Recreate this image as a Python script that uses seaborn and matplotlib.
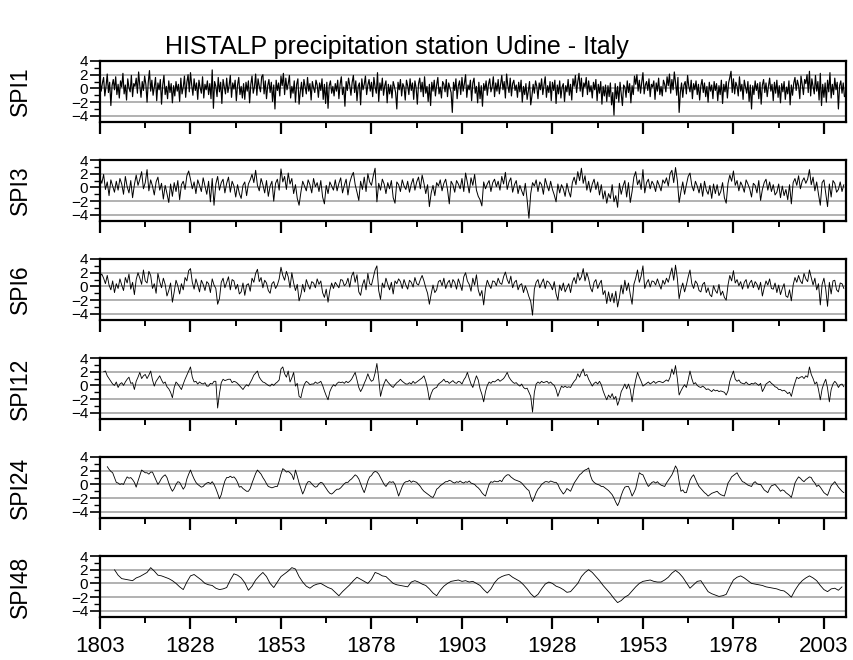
import numpy as np
import pandas as pd
import matplotlib
matplotlib.use("Agg")
import matplotlib.pyplot as plt
import seaborn as sns
from matplotlib.ticker import FixedLocator

# ---------------- data ----------------
title = "HISTALP precipitation station Udine - Italy"
names = ["SPI1", "SPI3", "SPI6", "SPI12", "SPI24", "SPI48"]
year_ticks = [1803, 1828, 1853, 1878, 1903, 1928, 1953, 1978, 2003]

# SPI1: 3 values per year, 1803 ... 2008
spi1 = [
    1.2, -0.4, 0.8, 1.6, -1.1, 0.3, 2.1, -0.6, 0.9, -2.5, 0.4, 1.3, -0.2, 1.7, -0.9,
    0.6, -1.4, 1.1, 0.2, 2.2, -0.8, 0.5, -1.7, 1.4, 0.1, -0.5, 1.9, -1.2, 0.7, 0.3,
    1.5, -0.7, 2.4, 0.4, -1.3, 1.0, -0.3, 1.8, 0.6, -2.0, 0.9, 2.6, -0.4, 1.2, -1.0,
    0.2, 1.6, -1.8, 0.8, -0.2, 1.3, -2.3, 0.5, 1.9, -0.9, 0.3, -1.5, 1.1, -0.6, 0.7,
    -2.1, 0.4, -1.1, 1.0, -0.4, 0.6, -1.9, 1.5, -0.8, 0.2, 1.8, -1.3, 0.9, 2.0, -0.5,
    2.3, 0.5, -1.0, 1.4, -0.3, 0.8, -1.6, 1.2, 0.1, -0.7, 1.7, -1.4, 0.6, -0.2, 1.1,
    -0.9, 0.7, -1.5, 2.7, -2.9, 1.0, 0.3, -1.2, 1.6, -0.5, 0.9, -2.2, 1.3, 0.2, -0.8,
    1.5, -0.6, 0.4, 1.9, -1.3, 0.8, -0.1, 1.2, -1.8, 0.5, 1.6, -0.9, 0.3, -1.4, 0.7,
    -1.6, 0.9, -0.4, 1.1, -2.1, 0.6, 1.8, -0.7, 0.2, 2.1, -1.0, 1.4, 0.3, -0.5, 1.7,
    2.0, -0.8, 1.1, -1.5, 0.4, 1.3, -0.6, 0.9, -1.9, 0.5, -3.0, 1.2, -0.3, 0.8, -1.1,
    1.8, 0.4, 2.2, -0.9, 1.5, -0.2, 0.7, 1.9, -1.4, 0.3, -0.7, 1.1, -2.0, 0.6, 1.4,
    -2.3, -0.5, 0.9, -1.2, 1.3, 0.2, -0.8, 1.6, -0.4, 0.7, -1.7, 1.0, 0.1, -0.6, 1.2,
    0.5, -1.3, 0.8, -0.3, 1.4, -1.6, 0.6, -2.2, 0.9, -2.9, 0.4, 1.1, -0.7, 0.3, -1.1,
    0.7, -0.4, 1.2, -1.5, 0.6, 1.7, -0.9, 0.2, -2.6, 1.0, -0.3, 1.5, 0.4, -1.0, 0.9,
    1.9, -0.6, 1.1, -1.8, 0.3, 0.8, -2.4, 1.4, -0.2, 0.6, 1.8, -0.9, 0.5, 1.3, -0.4,
    0.9, -1.2, 1.6, 0.2, -0.7, 2.3, -1.9, 0.8, -0.3, 1.5, -1.0, 0.4, 1.1, -2.1, 0.6,
    -0.8, 0.5, -1.4, 1.0, 0.3, -0.6, -3.0, 0.9, -0.2, 1.3, -1.1, 0.7, 0.2, -1.7, 1.2,
    0.4, -0.9, 1.4, -0.3, 0.8, -1.6, 1.1, 0.1, -2.3, 0.7, 1.5, -0.5, 0.9, -1.2, 1.7,
    -0.7, 0.3, -1.9, 0.6, -2.5, 0.9, -0.4, 1.2, -1.1, 0.5, 1.6, -0.8, 0.2, -1.4, 1.0,
    0.6, -0.5, 1.3, -1.2, 0.8, 0.1, -0.6, -3.5, 0.9, -0.3, 1.4, -1.5, 0.4, 1.1, -0.9,
    1.6, -0.4, 0.7, 2.0, -1.3, 0.5, -0.2, 1.2, -1.8, 0.8, 1.5, -0.7, 0.3, -2.1, 0.9,
    -1.5, 0.4, -2.6, 0.7, -0.3, 1.1, -1.0, 0.6, 1.4, -0.5, 0.2, 1.7, -1.2, 0.8, -0.4,
    1.3, -0.8, 0.5, 1.9, -0.2, 1.0, -1.4, 2.1, 0.4, -0.6, 1.5, -1.1, 0.7, 1.2, -0.3,
    0.5, -1.3, 0.9, -0.5, 1.2, -2.0, 0.3, -0.9, 0.7, -1.6, -0.4, 1.0, -2.4, -1.1, 0.6,
    -0.7, 1.1, 0.3, -1.5, 0.8, -0.2, 1.4, -0.9, 0.5, 1.7, -1.3, 0.4, -0.6, 1.0, -1.8,
    0.9, -0.3, 1.2, -2.2, 0.5, -0.8, 1.1, -1.4, 0.2, 0.7, -1.9, 0.4, -0.5, 1.3, -1.0,
    0.6, -1.7, 1.4, 0.3, 1.9, -0.6, 1.0, 2.2, -0.4, 1.5, -1.2, 0.8, 0.2, 1.6, -0.9,
    1.1, -0.5, 0.4, -1.4, 0.9, -0.2, 1.3, -1.8, 0.6, -0.7, 1.0, -2.3, 0.3, -1.1, 0.5,
    -1.9, 0.4, -1.2, 0.8, -2.4, -0.6, -3.9, 0.7, -1.5, 0.3, -2.0, 0.9, -0.8, -2.5, 0.5,
    0.2, -1.3, 1.1, -0.6, 0.7, -2.1, 0.4, -0.9, 1.8, 0.6, 2.0, -0.4, 1.2, -0.7, 0.9,
    2.3, -0.8, 0.5, 1.0, -0.3, 1.4, -1.2, 0.6, 0.2, 1.1, -1.6, 0.8, -0.4, 1.5, -0.9,
    0.3, -1.1, 1.2, 0.6, -0.5, 1.7, 0.4, 2.1, -0.7, 1.3, -0.2, 2.4, 0.9, -1.0, 1.6,
    -3.5, -0.6, 0.8, -1.3, 0.5, 1.0, -0.8, 1.9, 0.3, -0.5, 1.2, -1.5, 0.7, -0.2, 1.1,
    -0.9, 0.6, -1.7, 0.4, 1.3, -0.6, 0.8, -1.2, 0.3, -2.0, 0.9, -0.4, 0.5, -1.5, 1.0,
    -0.3, 0.7, -1.8, 0.4, -0.9, 1.2, -2.2, 0.6, -0.5, 1.0, -1.4, 0.8, 1.6, 2.5, -0.6,
    1.4, -0.8, 0.9, 0.3, -1.1, 1.7, -0.4, 0.6, -1.6, 1.2, 0.2, -0.7, 1.0, -1.9, 0.5,
    -3.0, 0.4, -0.9, 1.1, -0.3, 0.7, -1.5, 0.9, -2.3, 0.5, 1.3, -0.6, 0.8, -1.2, 0.3,
    1.5, -0.4, 0.6, -1.8, 0.9, -0.7, 1.2, -1.3, 0.4, -2.1, 0.7, -0.5, 1.0, -1.6, 0.2,
    -0.8, 1.1, -2.4, 0.5, -1.0, 0.8, 1.6, -0.3, 1.2, 0.4, -1.5, 1.8, 0.6, -0.9, 1.3,
    0.7, 2.0, -0.6, 2.5, -1.1, 1.4, 0.3, -0.8, 1.9, -0.4, 1.0, -1.7, 2.2, -2.5, 0.6,
    -1.3, 0.8, -2.0, 1.2, -0.5, 2.3, -1.4, 0.6, -0.9, 1.5, -0.2, 0.9, -3.0, 0.4, 1.1,
    -0.7, 0.8, -1.2,
]

# SPI3: 2 values per year, 1803 ... 2008
spi3 = [
    1.4, 0.6, 1.9, -0.3, 0.8, -1.2, 1.1, 0.2, -0.7, 0.9,
    -0.4, 1.3, 0.5, -1.0, 1.6, 0.1, -0.8, 1.0, -1.5, 0.4,
    1.8, 0.3, 1.2, 2.3, -0.2, 0.7, 2.6, -0.5, 1.1, 0.2,
    -1.1, 0.8, 1.5, -0.4, 0.6, -1.7, 0.3, -0.9, -2.2, 0.5,
    -1.3, 0.7, -0.6, 1.0, -1.8, 0.4, 0.9, -0.3, 1.7, 2.4,
    1.2, -0.2, 0.8, -0.9, 1.1, 0.3, -0.6, 1.4, 0.2, -1.0,
    0.9, -2.1, 1.3, -2.6, 0.5, 1.6, -0.4, 0.7, 1.2, -0.8,
    0.6, 1.5, -0.7, 0.9, 0.2, -1.4, 0.4, -0.9, -1.6, 0.3,
    0.8, -1.2, 0.5, 1.1, 1.9, 0.7, 2.5, 0.3, -0.5, 1.3,
    0.4, -0.8, 1.0, -1.3, 0.2, 0.9, -2.0, 0.6, 1.2, -0.4,
    2.7, 0.8, 1.6, -0.3, 2.1, 0.5, 1.3, -0.9, 0.4, -1.6,
    -2.6, -0.7, 0.9, 0.2, -0.5, 1.1, 0.4, -0.8, 1.3, 0.1,
    0.7, -0.6, 1.0, -1.4, -2.4, 0.3, -0.9, 0.8, 0.2, -0.4,
    1.1, -0.5, 0.6, 1.4, -0.8, 0.3, 1.2, -1.1, 0.7, 1.6,
    2.2, 0.4, -0.7, -1.9, 0.9, -0.3, 1.5, -0.6, 2.0, 0.8,
    0.3, 1.7, 2.8, -2.1, 0.6, -0.4, 1.2, 0.5, -0.9, 0.7,
    -0.2, 1.0, -1.5, -2.3, 0.8, 0.4, -0.6, 1.1, 0.2, -0.3,
    0.9, -0.7, 0.5, 1.3, -0.4, 0.8, 1.5, -0.2, 1.8, 0.6,
    -0.9, 0.4, -2.8, -0.8, 0.3, -1.2, 0.7, 0.2, 1.1, -0.5,
    0.6, 1.2, -0.3, -2.4, 0.9, 0.4, -0.7, 1.0, 0.5, -0.2,
    1.3, -0.6, 2.1, 0.7, -0.8, 1.4, 0.3, 1.9, -0.4, -1.3,
    -1.8, -2.7, 0.8, -0.2, 0.5, 1.0, -0.6, 0.7, 1.2, 0.1,
    0.9, -0.4, 1.6, 0.5, 2.2, -0.3, 0.8, 1.4, -0.7, 0.4,
    1.0, -0.9, 0.3, -0.5, -1.2, 0.6, -1.8, -4.5, -0.9, 0.7,
    0.2, 1.1, -0.6, 0.8, 0.4, -1.0, 1.3, 0.3, -0.5, 0.9,
    -0.3, -1.1, -2.1, 0.5, -0.8, 0.4, -0.2, -1.3, 0.6, -0.6,
    -1.4, 0.7, 1.5, 0.4, 2.3, 1.0, 2.8, 0.6, 1.7, -0.4,
    0.9, -0.7, 0.5, 1.2, -0.3, 0.8, -1.1, 0.4, -1.7, -0.5,
    -2.3, -0.9, -1.6, 0.4, -2.1, -1.2, -2.9, 0.6, -1.0, 0.2,
    1.0, -1.4, 0.7, -2.2, -0.6, 1.5, 2.3, 0.4, 1.1, -0.3,
    2.6, -0.8, 0.7, 1.2, -0.2, 0.9, 0.4, -0.6, 1.0, 0.3,
    -0.5, 1.1, 0.6, 1.4, 0.2, 2.0, 2.5, 0.7, 2.9, 1.0,
    -2.2, -0.6, 0.8, -1.0, 0.4, 1.6, 2.1, 0.3, -0.5, 0.9,
    0.2, -0.8, 0.6, -1.3, 0.9, -0.4, -1.0, 0.3, -1.6, 0.5,
    -0.9, 0.4, -1.2, -0.6, 0.7, -1.5, -2.3, 0.6, 1.8, 0.9,
    2.4, 0.3, 1.0, -0.5, 0.8, 0.2, -0.7, 1.1, 0.5, -0.2,
    -1.4, 0.6, 0.3, -0.8, 1.0, -1.9, -0.3, 0.7, 1.2, -0.4,
    0.8, -0.6, 0.4, -1.1, -0.7, 0.5, -1.5, 0.2, -1.2, -0.3,
    -1.8, 0.4, -2.4, 0.7, 1.3, 0.3, 1.7, -0.2, 0.9, 1.4,
    0.6, 1.2, 2.6, 0.4, 1.5, -0.5, 0.8, -1.0, -2.6, 0.7,
    1.1, -0.9, -2.8, 0.5, -1.4, 1.0, 0.6, -0.7, -0.3, 0.8,
    -0.6, 0.4,
]

# SPI6: 2 values per year, 1803 ... 2008
spi6 = [
    1.5, 1.8, 1.2, 0.4, 1.6, 0.2, -0.5, 0.8, -0.9, 0.4,
    -0.3, 1.1, 0.2, -0.6, 1.3, 0.5, 1.8, -0.4, 0.6, -1.2,
    1.0, 2.0, 1.2, 0.3, 2.4, 0.8, 0.5, 2.2, 1.6, -0.3,
    0.4, -1.0, 1.9, 0.7, -0.2, 1.2, 0.3, -1.4, -0.6, 0.5,
    -2.3, -0.8, 0.9, 0.1, -1.1, 0.4, -0.5, 1.3, 0.8, 2.3,
    2.6, 0.6, -0.4, 1.1, 0.2, -0.8, 0.9, 0.3, -0.6, 0.7,
    0.4, -0.9, 1.1, 0.2, -0.3, -2.6, -1.8, 0.6, 1.2, -0.2,
    0.6, 1.4, -0.5, 1.0, 0.8, -0.4, 0.3, -1.1, -0.8, 0.5,
    -1.3, 0.2, 0.4, -0.7, 1.2, 0.6, 1.9, 2.5, 0.7, 1.3,
    -0.2, 0.9, 0.5, -0.6, -1.0, 0.4, 0.7, -0.3, 0.2, 1.1,
    2.8, 1.6, 0.9, 2.2, 1.4, -0.2, 2.0, 0.5, -0.6, 0.3,
    -2.1, -1.2, 0.3, -0.8, 1.0, 0.2, -0.4, 0.7, 0.5, -0.2,
    1.1, 0.3, 0.8, -0.9, -1.6, -0.4, -2.3, -0.6, 0.5, -0.3,
    0.6, 0.2, -0.2, 1.0, 0.9, 0.1, 0.4, 1.2, -0.1, 1.5,
    2.1, 0.6, 1.7, -0.8, -1.3, 0.2, 1.0, -0.5, 1.9, 0.4,
    0.2, 1.3, 2.4, 3.0, -0.6, -1.9, 0.5, -0.2, 1.2, 0.3,
    -0.5, 0.6, -1.1, 0.8, 0.4, 1.1, 0.7, -0.3, 1.0, 0.2,
    -0.4, 0.9, 0.6, -0.1, 1.3, 0.4, 0.2, 1.0, 1.6, 0.8,
    -0.2, -1.0, -2.6, -1.1, 0.2, -0.9, -0.5, 0.7, 0.9, 0.1,
    1.2, -0.3, 0.5, 0.9, -0.2, 1.0, 0.6, -0.4, 1.1, 0.3,
    -0.6, 1.4, 2.0, 0.8, 0.3, -0.7, 1.2, 0.2, 1.7, -0.5,
    -1.4, -0.6, -2.7, -0.3, 0.9, 0.2, -0.3, 0.8, 0.7, 0.1,
    1.2, 0.5, 0.3, 1.4, 2.1, 1.0, 0.4, 1.5, -0.2, 0.6,
    0.9, -0.5, 0.2, 0.4, -0.9, 0.1, -0.6, -1.5, -2.2, -4.2,
    -0.4, 0.6, 1.0, -0.2, 0.5, 1.1, -0.3, 0.8, 0.6, 0.2,
    -0.5, 0.7, -1.1, -2.0, 0.2, -0.6, 0.5, -0.8, -0.2, 0.4,
    -0.9, 0.6, 1.3, 0.4, 2.0, 0.9, 1.4, 2.6, 0.8, 2.0,
    1.1, -0.2, -0.8, 0.6, 1.0, -0.3, 0.4, 0.9, -1.2, -0.6,
    -2.5, -0.8, -2.2, -1.0, -2.4, -0.7, -3.0, -1.6, 0.2, -1.1,
    0.9, -0.6, 0.5, -1.2, -2.6, 0.3, 1.2, 2.4, 0.6, 1.5,
    3.0, -0.3, 0.5, 1.0, -0.1, 0.8, 0.7, 0.2, 1.1, 0.3,
    -0.4, 0.9, 0.3, 1.2, 0.6, 1.7, 2.7, 0.9, 3.1, 1.2,
    -1.8, -0.4, 0.5, -0.8, 0.2, 1.4, 2.4, 0.4, -0.3, 0.8,
    0.4, -0.6, -0.8, 0.3, 0.6, -0.9, -0.2, -1.2, -1.5, 0.1,
    -0.6, -1.0, 0.3, -1.3, -0.7, -1.6, -2.0, 0.2, 1.6, 0.8,
    2.3, 0.5, 1.0, 0.1, 0.7, -0.4, 0.6, 1.0, -0.3, 0.5,
    0.9, -0.2, 0.7, 0.3, -0.5, 0.6, -1.4, -0.2, 0.8, 0.2,
    1.1, -0.3, -0.4, 0.5, -0.9, 0.2, -1.2, -0.3, 0.4, -1.4,
    -1.6, -0.5, -2.1, 0.2, 1.3, 0.6, 1.6, 0.8, 0.4, 1.9,
    1.1, 0.7, 2.4, 1.3, 0.2, 1.2, -0.5, 0.4, -2.7, 0.3,
    1.2, -0.4, -2.9, 0.6, -1.1, 0.8, 0.9, -0.5, -0.8, 0.5,
    0.4, -0.3,
]

# SPI12: 2 values per year, 1804 ... 2008
spi12 = [
    2.0, 2.1, 1.4, 1.0, 0.6, 0.2, 0.0, 0.5, -0.3, 0.2,
    0.4, 0.0, 0.5, 0.9, 1.2, 0.3, 0.4, -0.6, 0.6, 1.2,
    1.9, 1.0, 1.4, 1.6, 1.0, 1.5, 2.1, 0.8, -0.1, 0.6,
    1.0, 1.4, 0.8, 0.3, 0.5, -0.2, -0.5, -1.0, -1.8, -0.3,
    0.5, 0.2, -0.2, -0.6, 0.2, 0.9, 1.5, 2.1, 2.7, 1.2,
    0.5, 0.6, 0.2, 0.5, 0.3, 0.2, 0.4, -0.1, -0.1, 0.3,
    0.2, 0.6, 0.6, -3.3, -1.2, 0.4, 0.9, 0.7, 0.8, 0.9,
    0.9, 0.4, 0.6, 0.5, 0.3, 0.0, -0.3, -0.6, -0.2, 0.1,
    -0.1, 0.4, 0.9, 1.5, 1.8, 2.1, 1.2, 0.8, 0.5, 0.4,
    0.2, 0.0, -0.1, 0.2, 0.0, 0.3, 0.5, 0.8, 2.4, 2.7,
    1.7, 1.2, 2.1, 0.5, 1.1, 1.9, -0.1, 0.3, -1.6, -1.8,
    -0.6, 0.2, 0.6, 0.4, 0.1, 0.2, 0.2, 0.5, 0.3, 0.4,
    0.6, 0.0, -0.8, -1.5, -2.1, -0.9, -0.3, 0.1, -0.1, 0.3,
    0.5, 0.4, 0.5, 0.3, 0.6, 0.4, 0.6, 0.9, 1.4, 1.9,
    0.8, -0.3, -0.9, -0.4, 0.3, 0.9, 1.7, 1.0, 0.6, 0.8,
    1.8, 3.2, 1.0, -1.6, -0.5, 0.3, 0.9, 0.5, 0.2, -0.1,
    -0.3, 0.1, 0.4, 0.6, 0.9, 0.6, 0.4, 0.2, 0.2, 0.4,
    0.2, 0.6, 0.3, 0.5, 0.7, 0.9, 1.1, 1.4, 0.6, -0.5,
    -2.1, -1.2, -0.6, -0.4, -0.3, 0.2, 0.4, 0.6, 0.9, 0.5,
    0.6, 0.3, 0.5, 0.7, 0.4, 0.3, 0.6, 0.5, 0.2, 0.8,
    1.2, 1.9, 1.0, 0.2, -0.3, 0.6, 1.4, 0.8, -0.5, -1.3,
    -2.4, -0.9, 0.0, 0.5, 0.3, 0.6, 0.5, 0.7, 0.9, 0.6,
    0.8, 1.0, 1.4, 1.9, 1.2, 0.8, 0.5, 0.3, 0.4, 0.1,
    -0.1, 0.2, -0.3, -0.5, -0.4, -1.0, -1.6, -3.9, -1.0, 0.2,
    0.5, 0.3, 0.6, 0.4, 0.5, 0.6, 0.3, 0.5, 0.2, 0.0,
    -0.6, -1.6, -0.8, -0.1, -0.3, -0.1, -0.3, -0.2, -0.3, 0.2,
    0.6, 0.9, 1.7, 1.2, 1.9, 2.4, 1.4, 1.6, 0.9, 0.4,
    -0.1, 0.3, 0.5, 0.2, 0.6, 0.1, -0.8, -1.5, -2.1, -1.4,
    -1.8, -1.2, -2.0, -1.6, -2.9, -2.1, -0.9, -0.4, 0.2, -0.5,
    0.2, -0.6, -2.4, -0.5, 0.8, 1.9, 1.2, 0.6, -0.1, 0.1,
    0.3, 0.5, 0.2, 0.4, 0.6, 0.3, 0.5, 0.6, 0.5, 0.4,
    0.6, 0.8, 0.6, 1.2, 2.4, 1.6, 2.9, 1.0, -1.4, -0.8,
    -0.3, 0.1, -0.3, 0.8, 2.1, 1.0, 0.2, 0.4, 0.0, -0.2,
    -0.3, -0.1, -0.3, -0.6, -0.5, -0.7, -0.9, -0.6, -0.8, -0.7,
    -0.9, -0.8, -0.9, -1.0, -1.4, -0.8, 0.6, 1.4, 2.1, 0.9,
    0.6, 0.8, 0.4, 0.3, 0.2, 0.5, 0.2, 0.1, 0.3, 0.2,
    0.4, 0.2, 0.0, 0.3, -0.9, -0.4, 0.2, 0.4, 0.6, 0.3,
    0.1, -0.2, -0.3, -0.6, -0.6, -0.8, -0.7, -0.9, -1.2, -1.0,
    -1.6, -0.5, 0.4, 1.2, 1.0, 1.2, 1.3, 1.0, 1.4, 1.2,
    2.7, 1.6, 1.0, 0.2, 0.5, -0.6, -2.1, -0.5, 0.3, 0.9,
    -0.4, -2.4, -0.6, 0.2, 0.6, 0.3, -0.3, 0.1, 0.2, -0.2,
]

# SPI24: 2 values per year, 1805 ... 2008
spi24 = [
    2.6, 2.2, 1.9, 1.7, 1.0, 0.3, 0.2, 0.0, 0.1, 0.0,
    0.6, 1.1, 0.9, 1.0, 0.7, 0.3, -0.4, 0.5, 1.3, 2.1,
    1.9, 1.7, 1.7, 1.5, 1.8, 1.8, 1.2, 0.6, 0.0, 0.4,
    0.9, 1.2, 1.4, 1.0, 0.2, -0.5, -1.0, -0.6, 0.0, 0.4,
    0.3, -0.2, -0.7, -0.3, 0.8, 1.5, 2.1, 1.4, 0.8, 0.3,
    0.0, -0.2, -0.4, -0.3, 0.0, 0.2, 0.3, 0.1, 0.4, 0.0,
    -0.6, -1.3, -2.1, -1.5, -0.4, 0.5, 1.0, 1.0, 1.2, 1.0,
    1.1, 0.8, 0.3, -0.4, -0.3, -0.6, -0.8, -1.0, -1.0, -0.6,
    0.2, 0.9, 1.6, 2.1, 1.8, 1.5, 1.0, 0.6, 0.1, -0.3,
    -0.4, -0.5, -0.4, -0.3, -0.3, 0.5, 1.5, 2.3, 2.1, 1.8,
    1.9, 1.7, 1.4, 0.7, 2.1, 1.2, 0.2, -0.6, -1.4, -0.8,
    0.0, 0.4, 0.4, 0.1, -0.2, -0.4, -0.3, 0.1, 0.3, 0.2,
    -0.2, -0.6, -1.0, -1.3, -1.4, -1.2, -0.9, -0.7, -0.7, -0.5,
    -0.2, 0.1, 0.3, 0.3, 0.6, 0.8, 1.1, 1.4, 1.2, 0.8,
    0.1, -0.6, -1.2, -0.4, 0.5, 1.1, 1.3, 1.7, 1.9, 1.8,
    1.5, 1.0, 0.5, 0.0, -0.3, 0.1, 0.4, 0.3, 0.4, 0.0,
    -0.8, -1.7, -1.0, -0.3, 0.2, 0.4, 0.4, 0.6, 0.3, 0.5,
    0.4, 0.3, 0.0, -0.3, -0.7, -1.0, -1.2, -1.4, -1.6, -1.8,
    -1.9, -1.4, -0.7, -0.5, -0.2, 0.0, 0.2, 0.4, 0.4, 0.6,
    0.5, 0.3, 0.2, 0.4, 0.3, 0.5, 0.3, 0.2, 0.4, 0.3,
    0.5, 0.2, 0.1, 0.0, -0.3, -0.5, -0.8, -1.2, -1.5, -1.7,
    -0.8, 0.0, 0.4, 0.3, 0.5, 0.4, 0.4, 0.6, 0.4, 0.9,
    1.2, 1.4, 1.4, 1.1, 0.9, 0.7, 0.6, 0.5, 0.4, 0.2,
    -0.1, -0.4, -0.7, -0.9, -1.8, -2.5, -1.9, -1.2, -0.7, -0.4,
    0.0, 0.2, 0.4, 0.4, 0.3, 0.5, 0.4, 0.3, 0.3, 0.0,
    -0.6, -1.0, -1.4, -1.1, -0.6, -0.8, -1.0, -0.4, 0.2, 0.6,
    1.0, 1.4, 1.6, 1.9, 2.1, 2.2, 2.4, 1.3, 0.6, 0.3,
    0.1, 0.0, -0.1, -0.3, -0.3, -0.5, -0.7, -0.9, -1.2, -1.5,
    -2.0, -2.6, -3.1, -2.5, -1.6, -0.9, -0.4, -0.3, -0.3, -0.9,
    -1.7, -1.2, -0.6, 0.6, 1.7, 1.5, 1.4, 0.8, 0.2, -0.3,
    0.0, 0.3, 0.4, 0.2, 0.4, 0.1, -0.1, -0.2, -0.3, 0.2,
    0.6, 1.0, 1.4, 2.0, 2.7, 2.2, 0.4, -1.0, -0.8, -1.2,
    -1.2, -0.3, 0.6, 1.1, 1.4, 0.8, 0.2, -0.3, -0.6, -0.9,
    -1.2, -1.4, -1.7, -1.5, -1.3, -1.2, -1.1, -1.0, -1.3, -1.5,
    -1.6, -1.7, -0.8, 0.2, 0.6, 1.1, 1.3, 1.5, 1.7, 1.2,
    0.8, 0.4, 0.3, 0.1, -0.1, -0.2, -0.3, 0.2, 0.4, 0.1,
    0.0, 0.0, -0.4, -0.8, -1.0, -1.2, -0.6, -0.2, -0.1, 0.0,
    -0.3, -0.6, -1.0, -0.8, -0.9, -1.2, -1.4, -1.6, -1.9, -0.9,
    0.2, 0.7, 1.1, 0.9, 0.6, 0.4, 0.7, 0.9, 1.1, 1.0,
    0.5, 0.2, -0.3, -0.1, -0.4, -0.8, -1.2, -1.4, -1.6, -0.9,
    -0.2, 0.1, 0.4, 0.0, -0.4, -0.7, -1.0, -1.2,
]

# SPI48: 1 value per year, 1807 ... 2008
spi48 = [
    2.0, 1.2, 0.7, 0.6, 0.5, 0.4, 0.8, 1.0, 1.3, 1.6,
    2.3, 1.8, 1.2, 1.1, 0.9, 0.7, 0.4, 0.0, -0.5, -0.9,
    0.2, 1.1, 1.3, 0.9, 0.5, 0.0, -0.2, -0.3, -0.7, -0.9,
    -0.8, -0.6, 0.5, 1.4, 1.2, 0.8, 0.1, -1.0, -0.4, 0.5,
    1.1, 1.6, 1.0, 0.0, -0.6, 0.2, 1.0, 1.4, 1.8, 2.3,
    2.1, 1.0, 0.2, -0.4, -0.7, -0.3, -0.1, 0.0, -0.3, -0.6,
    -0.8, -1.3, -1.8, -1.2, -0.7, -0.2, 0.4, 0.9, 0.6, 0.3,
    0.0, 0.6, 1.6, 1.4, 1.1, 1.0, 0.5, 0.0, -0.2, -0.3,
    -0.4, -0.5, 0.2, 0.4, 0.2, -0.1, -0.3, -0.8, -1.4, -1.8,
    -1.0, -0.4, 0.0, 0.3, 0.4, 0.5, 0.3, 0.4, 0.2, 0.3,
    0.0, -0.3, -0.9, -1.4, -0.8, 0.1, 0.7, 1.0, 1.2, 1.3,
    0.9, 0.6, 0.3, -0.2, -0.8, -1.5, -2.0, -1.6, -0.8, -0.1,
    0.2, 0.0, -0.4, -0.6, -0.9, -1.3, -1.2, -0.6, 0.0, 1.0,
    1.6, 2.0, 1.6, 1.0, 0.4, -0.3, -0.9, -1.5, -2.2, -2.8,
    -2.5, -2.0, -1.7, -1.1, -0.5, 0.0, 0.3, 0.4, 0.5, 0.3,
    0.2, 0.2, 0.5, 0.9, 1.5, 1.9, 1.5, 0.9, 0.1, -0.7,
    -0.2, 0.3, 0.4, -0.4, -1.2, -1.5, -1.7, -1.9, -1.8, -1.6,
    -0.5, 0.5, 0.9, 1.1, 0.8, 0.4, 0.0, -0.1, -0.2, -0.3,
    -0.5, -0.6, -0.7, -0.8, -1.0, -1.1, -1.5, -2.0, -1.0, -0.2,
    0.4, 0.8, 1.1, 0.8, 0.4, -0.3, -0.9, -1.2, -0.8, -0.7,
    -1.0, -0.5,
]

series = [spi1, spi3, spi6, spi12, spi24, spi48]
starts = [1803, 1803, 1803, 1804, 1805, 1807]
per_year = [3, 2, 2, 2, 2, 1]
line_w = [0.85, 0.7, 0.65, 0.6, 0.6, 0.6]

# ---------------- style ----------------
sns.set_style("ticks")
plt.rcParams["font.family"] = ["Liberation Sans", "DejaVu Sans"]
plt.rcParams["text.color"] = "black"
plt.rcParams["xtick.color"] = "black"
plt.rcParams["ytick.color"] = "black"
plt.rcParams["axes.labelcolor"] = "black"

W, H = 854, 660
fig = plt.figure(figsize=(W / 100, H / 100), dpi=100)

x_left, x_width = 100, 746
panel_h = 61
first_top, step = 61, 99

for i, (name, vals, s0, py) in enumerate(zip(names, series, starts, per_year)):
    top = first_top + step * i
    ax = fig.add_axes([x_left / W, 1 - (top + panel_h) / H, x_width / W, panel_h / H])
    df = pd.DataFrame({"year": s0 + np.arange(len(vals)) / py, "spi": vals})
    sns.lineplot(data=df, x="year", y="spi", ax=ax, color="black",
                 linewidth=line_w[i], estimator=None, sort=False)

    ax.set_xlim(1803, 2009.1)
    ax.set_ylim(-4.9, 4.0)
    ax.yaxis.set_major_locator(FixedLocator([-4, -2, 0, 2, 4]))
    ax.yaxis.set_minor_locator(FixedLocator([-3, -1, 1, 3]))
    ax.xaxis.set_major_locator(FixedLocator(year_ticks))
    ax.xaxis.set_minor_locator(FixedLocator([y + 12.5 for y in year_ticks[:-1]]))
    ax.grid(axis="y", which="major", color="#9c9c9c", linewidth=1.1)
    ax.set_axisbelow(True)
    ax.set_xlabel("")
    ax.set_ylabel("")

    for sp in ax.spines.values():
        sp.set_visible(True)
        sp.set_linewidth(1.6)
        sp.set_color("black")

    ax.tick_params(axis="y", which="major", direction="out", length=7, width=1.2,
                   labelsize=11, pad=1.5, colors="black")
    ax.tick_params(axis="y", which="minor", direction="out", length=4, width=1.0,
                   colors="black")
    ax.tick_params(axis="x", which="major", direction="out", length=8.5, width=1.6,
                   labelsize=16, pad=5, colors="black")
    ax.tick_params(axis="x", which="minor", direction="out", length=4.5, width=1.4,
                   colors="black")
    if i < len(names) - 1:
        ax.tick_params(axis="x", labelbottom=False)
    else:
        ax.set_xticklabels([str(y) for y in year_ticks])

    fig.text(20 / W, 1 - (top + panel_h / 2) / H, name, rotation=90,
             ha="center", va="center", fontsize=16.5, color="black")

fig.text(396.5 / W, 1 - 47 / H, title, ha="center", va="center", fontsize=18,
         color="black")

fig.savefig("out.png", dpi=100)
